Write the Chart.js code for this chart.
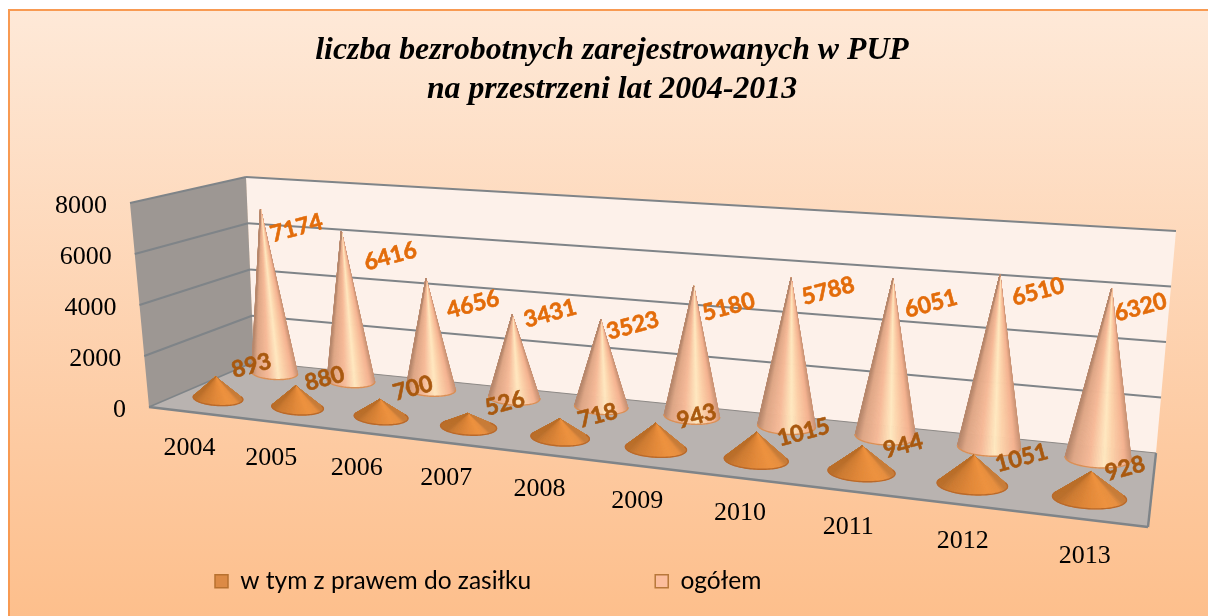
<!DOCTYPE html>
<html><head><meta charset="utf-8">
<style>html,body{margin:0;padding:0;background:#fff}canvas{display:block}</style>
<script src="https://cdn.jsdelivr.net/npm/chart.js@4/dist/chart.umd.min.js"></script>
</head><body>
<canvas id="c" width="1208" height="616"></canvas>
<script>
const years = ['2004','2005','2006','2007','2008','2009','2010','2011','2012','2013'];
const zasilek = [893,880,700,526,718,943,1015,944,1051,928];
const ogolem = [7174,6416,4656,3431,3523,5180,5788,6051,6510,6320];
const titleLines = ['liczba bezrobotnych zarejestrowanych w PUP','na przestrzeni lat 2004-2013'];
const seriesNames = ['w tym z prawem do zasiłku','ogółem'];

// view geometry of the 3D box: screen corners of the floor, and the rise of each corner at axis maximum
const VIEW = {
  floor: [[149,407],[1148,527],[1156,453],[254,362]],
  rise:  [[-19,-204],[19,-245],[20,-222],[-8,-185]],
  depth: [0.27,0.83],
  radius:[0.30,0.28]
};
function homography(q){
  const [p0,p1,p2,p3]=q;
  const dx1=p1[0]-p2[0],dx2=p3[0]-p2[0],sx=p0[0]-p1[0]+p2[0]-p3[0];
  const dy1=p1[1]-p2[1],dy2=p3[1]-p2[1],sy=p0[1]-p1[1]+p2[1]-p3[1];
  const den=dx1*dy2-dx2*dy1;
  const g=(sx*dy2-dx2*sy)/den,h=(dx1*sy-sx*dy1)/den;
  const a=p1[0]-p0[0]+g*p1[0],b=p3[0]-p0[0]+h*p3[0],c=p0[0];
  const d=p1[1]-p0[1]+g*p1[1],e=p3[1]-p0[1]+h*p3[1],f=p0[1];
  return (u,v)=>{const w=g*u+h*v+1;return [(a*u+b*v+c)/w,(d*u+e*v+f)/w];};
}
const floorH=homography(VIEW.floor);
function project(u,d,v){
  const p=floorH(u,d),R=VIEW.rise;
  const r=k=>R[0][k]*(1-u)*(1-d)+R[1][k]*u*(1-d)+R[2][k]*u*d+R[3][k]*(1-u)*d;
  return [p[0]+r(0)*v,p[1]+r(1)*v];
}
function mix(stops,s){
  for(let i=1;i<stops.length;i++){
    if(s<=stops[i][0]){
      const a=stops[i-1],b=stops[i],t=(s-a[0])/(b[0]-a[0]);
      return `rgb(${[1,2,3].map(k=>Math.round(a[k]+(b[k]-a[k])*t)).join(',')})`;
    }
  }
  const l=stops[stops.length-1];return `rgb(${l[1]},${l[2]},${l[3]})`;
}
const SHORT_STOPS=[[0,186,110,42],[.12,205,122,48],[.45,226,136,56],[.75,238,146,62],[.92,232,142,62],[1,200,124,56]];
const TALL_STOPS=[[0,184,136,108],[.1,222,166,134],[.35,246,186,152],[.58,255,232,192],[.7,252,210,170],[.9,244,178,144],[1,200,146,116]];

function drawCone(ctx,u,d,ru,v,stops,rim){
  const L=project(u-ru,d,0),R=project(u+ru,d,0);
  const cx=(L[0]+R[0])/2,cy=(L[1]+R[1])/2;
  const rx=Math.hypot(R[0]-L[0],R[1]-L[1])/2*0.8+6.8,ry=rx*0.29;
  const rot=Math.atan2(R[1]-L[1],R[0]-L[0])*0.5;
  const A=project(u,d,v*0.96);
  A[0]-=(1-u)*8*v;
  const cr=Math.cos(-rot),sr=Math.sin(-rot);
  const ax=(A[0]-cx)*cr-(A[1]-cy)*sr,ay=(A[0]-cx)*sr+(A[1]-cy)*cr;
  const px=ax/rx,py=ay/ry,D=Math.hypot(px,py),phi=Math.atan2(py,px);
  const off=D>1?Math.acos(1/D):0;
  let a0=phi+off,a1=phi-off+Math.PI*2;
  const pt=t=>{const x=rx*Math.cos(t),y=ry*Math.sin(t);
    const c=Math.cos(rot),s=Math.sin(rot);return [cx+x*c-y*s,cy+x*s+y*c];};
  const P0=pt(a0),P1=pt(a1);
  const N=64,xmin=Math.min(P0[0],P1[0]),xmax=Math.max(P0[0],P1[0]);
  ctx.save();
  ctx.lineWidth=0.8;ctx.lineJoin='round';
  for(let i=0;i<N;i++){
    const t0=a0+(a1-a0)*i/N,t1=a0+(a1-a0)*(i+1)/N;
    const p=pt(t0),q=pt(t1);
    const col=mix(stops,Math.max(0,Math.min(1,(((p[0]+q[0])/2)-xmin)/(xmax-xmin))));
    ctx.fillStyle=col;ctx.strokeStyle=col;
    ctx.beginPath();ctx.moveTo(A[0],A[1]);ctx.lineTo(p[0],p[1]);ctx.lineTo(q[0],q[1]);ctx.closePath();
    ctx.fill();ctx.stroke();
  }
  ctx.strokeStyle=rim;ctx.lineWidth=1.4;
  ctx.beginPath();
  for(let i=0;i<=N;i++){const p=pt(a0+(a1-a0)*i/N);i?ctx.lineTo(p[0],p[1]):ctx.moveTo(p[0],p[1]);}
  ctx.stroke();
  ctx.restore();
  return A;
}
const LABEL_NUDGE={
  tall:[[36,19],[49,25],[47,26],[38,-1],[32,6],[35,21],[37,13],[38,25],[38,17],[29,19]],
  short:[[36,-11],[29,-7],[33,-11],[37,-10],[38,-3],[41,-7],[47,0],[41,0],[48,3],[34,-3]]
};
function poly(ctx,pts,fill){ctx.beginPath();pts.forEach((p,i)=>i?ctx.lineTo(p[0],p[1]):ctx.moveTo(p[0],p[1]));ctx.closePath();ctx.fillStyle=fill;ctx.fill();}
function seg(ctx,a,b,c,w){ctx.beginPath();ctx.moveTo(a[0],a[1]);ctx.lineTo(b[0],b[1]);ctx.strokeStyle=c;ctx.lineWidth=w;ctx.stroke();}
const warp=u=>u+0.012*Math.sin(Math.PI*u);

const box3d={
  id:'box3d',
  afterLayout(chart){
    chart.legend.left=91;chart.legend.top=445;
  },
  beforeDraw(chart){
    const ctx=chart.ctx,W=chart.width,H=chart.height;
    const xs=chart.scales.x,ys=chart.scales.y,ca=chart.chartArea;
    ctx.save();
    ctx.fillStyle='#fff';ctx.fillRect(0,0,W,H);
    const g=ctx.createLinearGradient(0,9,0,H);
    g.addColorStop(0,'#fee9d8');g.addColorStop(.72,'#fdcaa1');g.addColorStop(1,'#fdbf8c');
    ctx.fillStyle=g;ctx.fillRect(8,9,W-8,H-9);
    ctx.fillStyle='#f89a52';ctx.fillRect(8,9,2,H-9);ctx.fillRect(8,9,W-8,2);
    const f=VIEW.floor;
    const t0=project(0,0,1),t2=project(1,1,1),t3=project(0,1,1);
    poly(ctx,[t3,t2,f[2],f[3]],'#fdf1ea');
    poly(ctx,[t0,t3,f[3],f[0]],'#9d9793');
    poly(ctx,f,'#b9b3b0');
    const frac=v=>(ca.bottom-ys.getPixelForValue(v))/(ca.bottom-ys.getPixelForValue(ys.max));
    ys.ticks.forEach(tk=>{
      const v=frac(tk.value);
      if(v===0)return;
      const a=project(0,0,v),b=project(0,1,v),c=project(1,1,v);
      seg(ctx,a,b,'#7f8488',2.1);seg(ctx,b,c,'#7f8488',2.1);
    });
    seg(ctx,f[3],f[2],'#8d8a88',1.2);
    seg(ctx,f[0],f[3],'#7f8488',1.5);
    seg(ctx,f[0],f[1],'#7f8488',2.4);
    seg(ctx,f[1],f[2],'#7f8488',2.4);
    ys._computeLabelArea=()=>undefined;xs._computeLabelArea=()=>undefined;
    ys.getLabelItems().forEach((it,i)=>{
      const p=project(0,0,frac(ys.ticks[i].value));
      it.options.translation=[p[0]-23,p[1]+3];
    });
    xs.getLabelItems().forEach((it,i)=>{
      const u=(xs.getPixelForTick(i)-ca.left)/(ca.right-ca.left);
      const p=project(u,0,0);
      it.options.translation=[p[0]+1+12*Math.sin(Math.PI*u),p[1]+37];
      it.textOffset=0;it.options.textBaseline='middle';it.options.textAlign='center';
    });
    ctx.restore();
  },
  beforeDatasetsDraw(chart){
    const ctx=chart.ctx,xs=chart.scales.x,ys=chart.scales.y,ca=chart.chartArea;
    const uOf=i=>warp((xs.getPixelForValue(i)-ca.left)/(ca.right-ca.left));
    const vOf=val=>(ca.bottom-ys.getPixelForValue(val))/(ca.bottom-ys.getPixelForValue(ys.max));
    const shortSet=chart.data.datasets[0].data,tallSet=chart.data.datasets[1].data;
    const apexT=tallSet.map((val,i)=>drawCone(ctx,uOf(i),VIEW.depth[1],VIEW.radius[1]*0.1,vOf(val),TALL_STOPS,'#d98f56'));
    const apexS=shortSet.map((val,i)=>drawCone(ctx,uOf(i),VIEW.depth[0],VIEW.radius[0]*0.1,vOf(val),SHORT_STOPS,'#b9692a'));
    ctx.save();
    ctx.font='bold 23px Lato';ctx.textAlign='center';ctx.textBaseline='middle';ctx.lineWidth=0.6;ctx.lineJoin='round';
    const lab=(val,a,n,col)=>{
      ctx.save();ctx.translate(a[0]+n[0],a[1]+n[1]);ctx.rotate(-15*Math.PI/180);
      ctx.fillStyle=col;ctx.strokeStyle=col;ctx.fillText(String(val),0,0);ctx.strokeText(String(val),0,0);ctx.restore();
    };
    tallSet.forEach((val,i)=>lab(val,apexT[i],LABEL_NUDGE.tall[i],'#e36c0a'));
    shortSet.forEach((val,i)=>lab(val,apexS[i],LABEL_NUDGE.short[i],'#a9590f'));
    ctx.restore();
    return false;
  }
};

new Chart(document.getElementById('c'),{
  type:'bar',
  data:{labels:years,datasets:[
    {label:seriesNames[0],data:zasilek,backgroundColor:'#dc8a45',borderColor:'#b8712f',borderWidth:1.5},
    {label:seriesNames[1],data:ogolem,backgroundColor:'#fcbd9c',borderColor:'#b8773a',borderWidth:1.5}
  ]},
  options:{
    responsive:false,animation:false,
    layout:{padding:{left:16,right:0,top:13,bottom:0}},
    scales:{
      x:{grid:{display:false},border:{display:false},
         ticks:{autoSkip:false,maxRotation:0,minRotation:0,color:'#000',font:{family:'"Liberation Serif"',size:26}}},
      y:{min:0,max:8000,grid:{display:false},border:{display:false},
         ticks:{stepSize:2000,color:'#000',font:{family:'"Liberation Serif"',size:26},callback:v=>String(v)}}
    },
    plugins:{
      title:{display:true,text:titleLines,color:'#000',align:'center',
        font:{family:'"Liberation Serif"',size:31.8,weight:'bold',style:'italic',lineHeight:1.23},
        padding:{top:18,bottom:10}},
      legend:{display:true,position:'bottom',align:'start',
        labels:{boxWidth:13,boxHeight:13,padding:124,color:'#000',font:{family:'Lato',size:24.5}}},
      tooltip:{enabled:false}
    }
  },
  plugins:[box3d]
});
</script>
</body></html>
